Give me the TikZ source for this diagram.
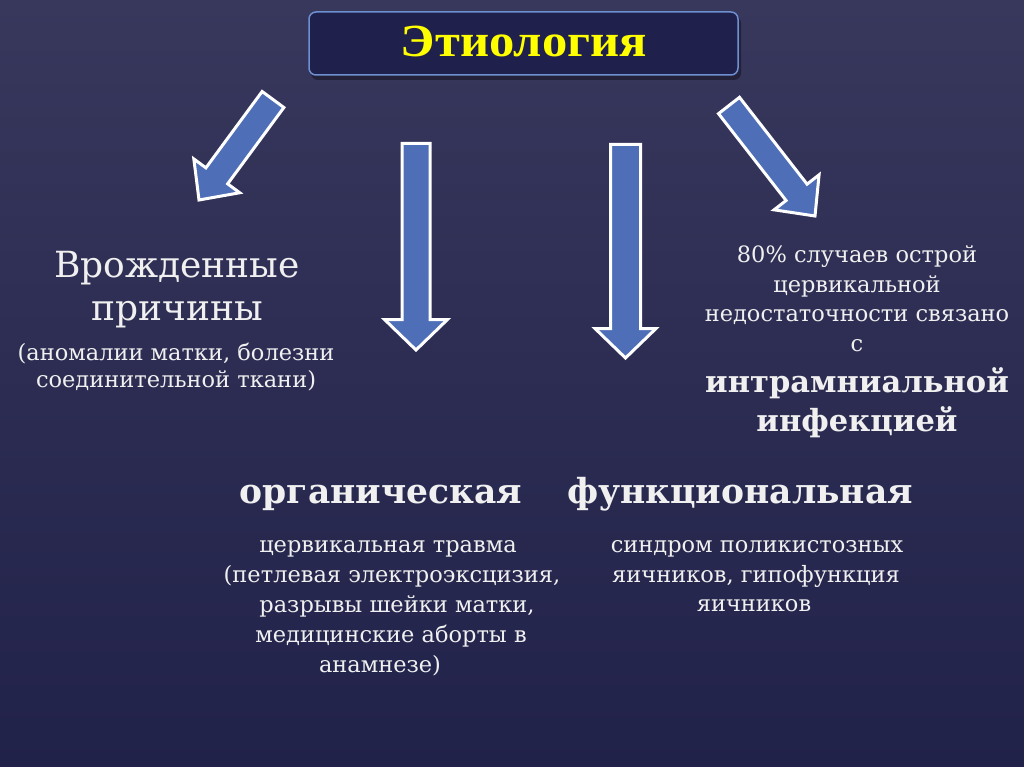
\documentclass[tikz,border=0pt]{standalone}
\usepackage{fontspec}
\setmainfont{DejaVu Serif}
\newfontfamily\titlefont{Liberation Serif}[FakeStretch=1.1]
\usetikzlibrary{calc}
\definecolor{bgtop}{RGB}{56,55,92}
\definecolor{bgbot}{RGB}{33,34,74}
\definecolor{boxfill}{RGB}{32,32,76}
\definecolor{boxedge}{RGB}{110,143,208}
\definecolor{arrowblue}{RGB}{78,110,183}
\definecolor{txt}{RGB}{240,240,240}
\definecolor{ttl}{RGB}{255,255,0}
\tikzset{
  barrow/.style={draw=white, line width=3pt, fill=arrowblue, line join=miter},
  txtbig/.style={anchor=base, inner sep=0pt, text=txt, font=\fontsize{36}{40}\selectfont},
  txtbold/.style={anchor=base, inner sep=0pt, text=txt, font=\fontsize{34.5}{38}\selectfont\bfseries},
  txtboldr/.style={anchor=base, inner sep=0pt, text=txt, font=\fontsize{30.5}{34}\selectfont\bfseries},
  txtsmall/.style={anchor=base, inner sep=0pt, text=txt, font=\fontsize{22.5}{26}\selectfont},
}
\newcommand\blockarrow[6]{%
  \coordinate (#1-t) at #2;
  \coordinate (#1-p) at #3;
  \coordinate (#1-b) at ($(#1-p)!#6!(#1-t)$);
  \draw[barrow] ($(#1-t)!#4!90:(#1-p)$) -- ($(#1-b)!#4!90:(#1-p)$)
    -- ($(#1-b)!#5!90:(#1-p)$) -- (#1-p) -- ($(#1-b)!#5!-90:(#1-p)$)
    -- ($(#1-b)!#4!-90:(#1-p)$) -- ($(#1-t)!#4!-90:(#1-p)$) -- cycle;
}
\begin{document}
\begin{tikzpicture}[x=1pt,y=-1pt]
\useasboundingbox (0,0) rectangle (1024,767);
\shade[top color=bgtop, bottom color=bgbot] (0,0) rectangle (1024,767);
% title box
\fill[black, opacity=0.35, rounded corners=7pt] (311,16) rectangle (741,80);
\node[draw=boxedge, line width=1.5pt, fill=boxfill, rounded corners=7pt,
      minimum width=429pt, minimum height=63pt, inner sep=0pt] (title) at (523.5,43.5) {};
\node[anchor=base, inner sep=0pt, text=ttl, font=\titlefont\bfseries\fontsize{46}{50}\selectfont] (titletext) at (524,57) {Этиология};
% arrows
\blockarrow{a1}{(273,99.5)}{(199,200)}{13.5pt}{28.5pt}{30pt}
\blockarrow{a2}{(416,143.5)}{(416,350)}{14pt}{31.5pt}{30.5pt}
\blockarrow{a3}{(625.5,144.5)}{(625.5,358)}{15pt}{30.5pt}{29.5pt}
\blockarrow{a4}{(729,105.5)}{(815,216)}{13.3pt}{28.5pt}{30pt}
% left block
\node[txtbig] (c1) at (177,277) {Врожденные};
\node[txtbig] (c2) at (177,320) {причины};
\node[txtsmall] (c3) at (176,360) {(аномалии матки, болезни};
\node[txtsmall] (c4) at (176,387) {соединительной ткани)};
% right block
\node[txtsmall] (r1) at (857,262) {80\% случаев острой};
\node[txtsmall] (r2) at (857,292) {цервикальной};
\node[txtsmall] (r3) at (857,321) {недостаточности связано};
\node[txtsmall] (r4) at (857,351) {с};
\node[txtboldr] (r5) at (857,392) {интрамниальной};
\node[txtboldr] (r6) at (857,431) {инфекцией};
% organic
\node[txtbold] (org) at (381,503) {органическая};
\node[txtsmall] (o1) at (388,552) {цервикальная травма};
\node[txtsmall] (o2) at (392,582) {(петлевая электроэксцизия,};
\node[txtsmall] (o3) at (397,612) {разрывы шейки матки,};
\node[txtsmall] (o4) at (391,642) {медицинские аборты в};
\node[txtsmall] (o5) at (380,672) {анамнезе)};
% functional
\node[txtbold] (fun) at (740,503) {функциональная};
\node[txtsmall] (f1) at (757,552) {синдром поликистозных};
\node[txtsmall] (f2) at (756,582) {яичников, гипофункция};
\node[txtsmall] (f3) at (754,611) {яичников};
\end{tikzpicture}
\end{document}
